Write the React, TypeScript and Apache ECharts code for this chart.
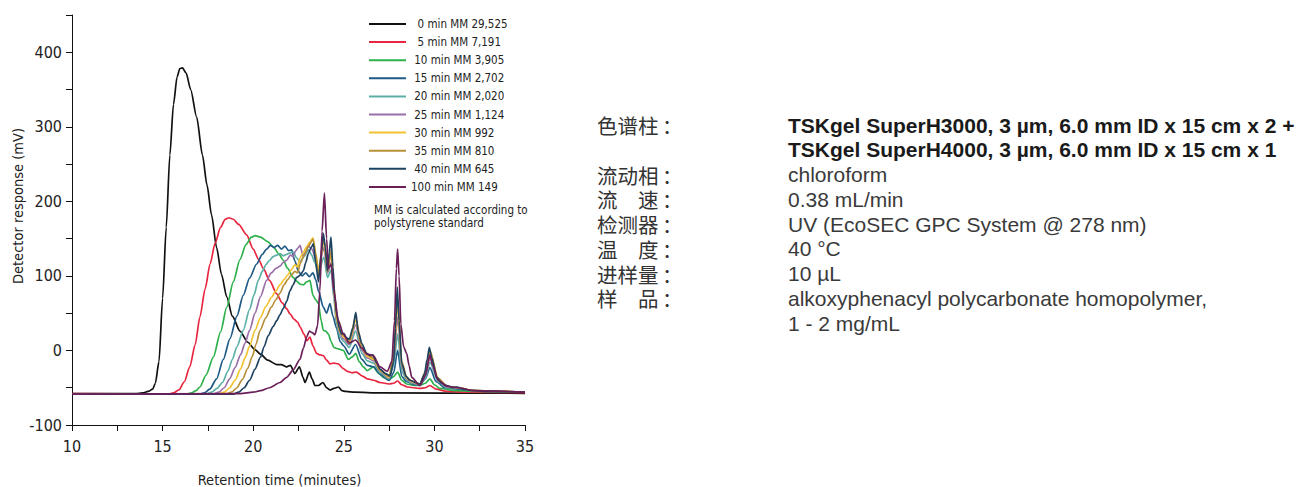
import React, { useEffect, useRef } from "react";
import * as echarts from "echarts";

// Sample labels and trace colours
const traceNames = [
  "0 min MM 29,525",
  "5 min MM 7,191",
  "10 min MM 3,905",
  "15 min MM 2,702",
  "20 min MM 2,020",
  "25 min MM 1,124",
  "30 min MM 992",
  "35 min MM 810",
  "40 min MM 645",
  "100 min MM 149",
];
const traceColors = [
  "#111111",
  "#e8263f",
  "#2db14b",
  "#1f5a86",
  "#5cb0a6",
  "#9a6ea8",
  "#f2c230",
  "#b8903a",
  "#1d4360",
  "#6b1f58",
];

// Retention time (min), detector response (mV)
const trace0 = [[10,-58],[13.5,-58],[13.9,-57],[14.2,-55],[14.45,-52],[14.6,-44],[14.8,-15],[15.0,70],[15.2,165],[15.4,262],[15.6,330],[15.8,367],[15.95,378],[16.1,379],[16.3,372],[16.55,350],[16.88,313],[17.2,262],[17.45,222],[17.7,182],[17.98,138],[18.25,102],[18.54,72],[18.85,46],[19.27,26],[19.7,11],[20.1,1],[20.4,-5],[20.8,-13],[21.3,-19],[21.55,-19],[21.85,-22],[22.05,-20],[22.3,-31],[22.55,-22],[22.75,-36],[22.86,-43],[23.1,-29],[23.25,-38],[23.41,-47],[23.6,-47],[23.85,-43],[24.05,-50],[24.24,-53],[24.45,-51],[24.7,-49],[24.9,-54],[25.1,-55],[25.6,-56],[27,-57],[35,-57.5]];
const trace5 = [[10,-58],[15.3,-58.5],[15.6,-57],[15.9,-53],[16.2,-42],[16.5,-22],[16.8,8],[17.06,45],[17.35,83],[17.62,116],[17.9,144],[18.2,165],[18.45,176],[18.65,178],[18.9,176],[19.2,169],[19.64,155],[20.0,136],[20.3,122],[20.56,110],[20.9,94],[21.3,76],[21.6,64],[21.85,56],[22.03,49],[22.25,42],[22.45,38],[22.6,31],[22.8,22],[22.97,13],[23.13,18],[23.3,6],[23.5,-4],[23.7,-6],[23.87,-7],[24.05,-13],[24.24,-18],[24.45,-17],[24.7,-18],[24.95,-24],[25.2,-28],[25.45,-30],[25.7,-29],[26.0,-34],[26.3,-38],[26.65,-40],[27.0,-43],[27.5,-45],[27.75,-44],[27.97,-41],[28.2,-46],[28.5,-49],[29.2,-51],[29.5,-50],[29.75,-47],[30.1,-52],[30.7,-55],[32,-56],[35,-56.5]];
const trace10 = [[10,-58.5],[16.3,-58.5],[16.6,-57],[16.85,-54],[17.06,-49],[17.4,-33],[17.8,-9],[18.2,25],[18.54,58],[18.9,92],[19.27,122],[19.6,142],[19.9,152],[20.1,154],[20.4,152],[20.8,146],[21.11,139],[21.4,130],[21.66,121],[21.9,110],[22.2,98],[22.4,93],[22.58,89],[22.77,88],[22.95,92],[23.13,94],[23.3,74],[23.45,68],[23.6,63],[23.75,40],[23.87,27],[24.0,26],[24.15,22],[24.3,12],[24.45,4],[24.7,2],[24.97,0],[25.25,-12],[25.45,-9],[25.66,-4],[25.85,-15],[26.08,-22],[26.3,-27],[26.63,-22],[26.9,-30],[27.18,-36],[27.5,-39],[27.75,-35],[27.97,-29],[28.2,-40],[28.47,-45],[28.9,-47],[29.2,-47],[29.5,-44],[29.75,-38],[30.0,-46],[30.3,-51],[31.2,-54],[32.5,-55],[35,-56]];
const trace15 = [[10,-58.5],[17.0,-58.5],[17.3,-57],[17.6,-52],[17.98,-38],[18.35,-12],[18.72,16],[19.1,46],[19.45,74],[19.8,97],[20.19,116],[20.5,129],[20.74,136],[20.95,141],[21.15,138],[21.35,141],[21.57,136],[21.75,140],[21.95,134],[22.12,135],[22.3,120],[22.5,106],[22.7,100],[22.9,104],[23.1,99],[23.3,104],[23.45,95],[23.6,80],[23.87,58],[24.05,50],[24.24,63],[24.4,46],[24.6,30],[24.8,12],[25.0,6],[25.3,-5],[25.65,8],[26.0,-12],[26.3,-20],[26.65,-22],[27.0,-32],[27.5,-40],[27.75,-30],[27.97,0],[28.2,-35],[28.47,-42],[28.9,-46],[29.2,-46],[29.5,-38],[29.75,-23],[30.1,-42],[30.6,-50],[31.3,-52],[32.5,-54.5],[35,-56]];
const trace20 = [[10,-58.5],[17.4,-58.5],[17.7,-56],[18.0,-51],[18.3,-43],[18.6,-28],[18.85,-12],[19.1,5],[19.45,27],[19.8,55],[20.05,75],[20.28,94],[20.5,106],[20.7,115],[20.9,121],[21.1,126],[21.3,128],[21.48,130],[21.65,127],[21.85,129],[22.05,131],[22.21,132],[22.4,124],[22.6,119],[22.8,126],[23.05,135],[23.23,128],[23.4,118],[23.6,104],[23.9,125],[24.1,98],[24.3,108],[24.45,70],[24.6,35],[24.8,18],[25.0,12],[25.3,4],[25.65,26],[26.0,-4],[26.3,-14],[26.65,-17],[27.0,-30],[27.5,-38],[27.75,-20],[27.97,22],[28.2,-28],[28.47,-40],[28.75,-44],[29.2,-46],[29.5,-37],[29.75,-16],[30.2,-42],[30.7,-50],[31.3,-51],[32.2,-54],[35,-56]];
const trace25 = [[10,-58.5],[17.8,-58.5],[18.1,-56],[18.4,-50],[18.7,-38],[19.0,-23],[19.3,-6],[19.55,10],[19.8,27],[20.1,50],[20.4,72],[20.74,94],[21.0,104],[21.25,110],[21.48,113],[21.65,118],[21.85,121],[22.05,128],[22.2,126],[22.35,134],[22.5,138],[22.58,141],[22.75,127],[22.9,132],[23.05,140],[23.25,136],[23.45,122],[23.6,110],[23.9,138],[24.1,104],[24.3,118],[24.45,78],[24.6,40],[24.8,22],[25.0,15],[25.3,8],[25.65,34],[26.0,0],[26.3,-10],[26.65,-14],[27.0,-28],[27.5,-37],[27.75,-15],[27.97,45],[28.2,-22],[28.47,-38],[28.75,-43],[29.2,-46],[29.5,-34],[29.75,-10],[30.2,-40],[30.7,-49],[31.3,-50],[32.2,-54],[35,-56]];
const trace30 = [[10,-58.5],[18.1,-58.5],[18.4,-56],[18.7,-50],[19.0,-40],[19.3,-25],[19.55,-10],[19.8,6],[20.1,27],[20.4,44],[20.7,59],[21.0,71],[21.25,80],[21.48,88],[21.7,95],[21.9,101],[22.1,108],[22.3,115],[22.45,112],[22.58,124],[22.75,131],[22.95,139],[23.15,146],[23.3,151],[23.45,130],[23.6,108],[23.9,148],[24.1,110],[24.3,128],[24.45,82],[24.6,42],[24.8,24],[25.0,18],[25.3,10],[25.65,40],[26.0,3],[26.3,-8],[26.65,-12],[27.0,-27],[27.5,-36],[27.75,-10],[27.97,62],[28.2,-18],[28.47,-37],[28.75,-42],[29.2,-45],[29.5,-30],[29.75,-3],[30.2,-38],[30.7,-48],[31.3,-50],[32.2,-54],[35,-56]];
const trace35 = [[10,-58.5],[18.5,-58.5],[18.8,-56],[19.1,-50],[19.4,-39],[19.7,-24],[19.95,-8],[20.15,8],[20.38,27],[20.7,44],[21.0,58],[21.25,68],[21.48,77],[21.7,88],[21.9,95],[22.1,101],[22.3,106],[22.45,104],[22.6,117],[22.8,127],[23.05,140],[23.3,149],[23.45,130],[23.6,100],[23.9,150],[24.1,105],[24.3,135],[24.45,88],[24.6,45],[24.8,26],[25.0,20],[25.3,12],[25.65,44],[26.0,5],[26.3,-6],[26.65,-10],[27.0,-26],[27.5,-35],[27.75,-5],[27.97,72],[28.2,-15],[28.47,-36],[28.75,-41],[29.2,-45],[29.5,-28],[29.75,0],[30.2,-37],[30.7,-48],[31.3,-50],[32.2,-54],[35,-56]];
const trace40 = [[10,-58.5],[18.9,-58.5],[19.2,-56],[19.5,-50],[19.8,-40],[20.1,-25],[20.4,-9],[20.6,5],[20.83,20],[21.1,32],[21.3,40],[21.48,48],[21.65,56],[21.85,66],[22.03,80],[22.2,88],[22.4,98],[22.6,101],[22.77,107],[22.9,118],[23.04,130],[23.2,138],[23.32,143],[23.45,118],[23.6,92],[23.75,130],[23.87,157],[23.98,138],[24.1,107],[24.2,132],[24.29,152],[24.4,112],[24.5,72],[24.61,49],[24.75,30],[24.88,22],[25.0,23],[25.15,17],[25.3,15],[25.5,30],[25.66,51],[25.8,25],[26.0,9],[26.26,-4],[26.45,-7],[26.6,-6],[26.8,-16],[27.0,-25],[27.3,-31],[27.55,-34],[27.75,-15],[27.85,30],[27.95,85],[28.05,40],[28.2,-18],[28.45,-35],[28.65,-40],[29.2,-45],[29.45,-32],[29.6,-12],[29.72,4],[29.85,-10],[30.13,-36],[30.4,-44],[30.68,-47],[31.0,-50],[31.25,-49],[31.6,-52],[32.15,-54],[33,-55],[35,-56]];
const trace100 = [[10,-58.5],[19.3,-58],[20.0,-56],[20.4,-54],[20.9,-50],[21.48,-43],[21.85,-36],[22.21,-26],[22.58,-12],[22.77,3],[22.95,18],[23.1,26],[23.25,24],[23.4,21],[23.55,33],[23.68,80],[23.8,160],[23.93,211],[24.05,150],[24.15,110],[24.3,116],[24.45,80],[24.7,40],[24.97,22],[25.3,10],[25.65,14],[26.0,3],[26.3,-5],[26.63,-7],[27.0,-22],[27.4,-28],[27.65,-15],[27.8,40],[27.9,110],[27.97,136],[28.05,100],[28.15,35],[28.3,5],[28.47,-4],[28.6,-20],[28.75,-36],[29.2,-47],[29.5,-34],[29.75,-6],[29.9,-20],[30.2,-40],[30.7,-48],[31.3,-50],[32.2,-54],[35,-56]];

const traces = [trace0, trace5, trace10, trace15, trace20, trace25, trace30, trace35, trace40, trace100];

// Method conditions shown beside the chromatogram
const conditionLabels = ["色谱柱", "", "流动相", "流\u3000速", "检测器", "温\u3000度", "进样量", "样\u3000品", ""];
const conditionValues = [
  "TSKgel SuperH3000, 3 µm, 6.0 mm ID x 15 cm x 2 +",
  "TSKgel SuperH4000, 3 µm, 6.0 mm ID x 15 cm x 1",
  "chloroform",
  "0.38 mL/min",
  "UV (EcoSEC GPC System @ 278 nm)",
  "40 °C",
  "10 µL",
  "alkoxyphenacyl polycarbonate homopolymer,",
  "1 - 2 mg/mL",
];
const noteLines = ["MM is calculated according to", "polystyrene standard"];

const narrow =
  "'Liberation Sans Narrow', 'DejaVu Sans Condensed', 'Roboto Condensed', 'Liberation Sans', sans-serif";
const plain = "'Liberation Sans', Arial, sans-serif";
const cjk = "'Noto Sans CJK SC', sans-serif";

// Nudge the shorter sample times right so the "min" words roughly line up
function legendLabel(name: string) {
  const digits = name.indexOf(" min");
  return "\u00a0".repeat(Math.max(0, 3 - digits)) + name;
}

function buildOption(): echarts.EChartsOption {
  const series = traces.map((data, i) => ({
    name: traceNames[i],
    type: "line" as const,
    data,
    showSymbol: false,
    symbol: "none",
    smooth: 0.25,
    smoothMonotone: "x" as const,
    lineStyle: { color: traceColors[i], width: 1.7 },
    itemStyle: { color: traceColors[i] },
    emphasis: { disabled: true },
    z: 2 + i,
  }));

  const rowTop = 125;
  const rowStep = 24.75;
  const graphics: any[] = [];
  // Condition names and their colons, each as one multi-line block
  graphics.push({
    type: "text",
    left: 597,
    top: rowTop - rowStep / 2,
    style: {
      text: conditionLabels.join("\n"),
      fontSize: 20.5,
      lineHeight: rowStep,
      fontFamily: cjk,
      fill: "#333333",
    },
  });
  graphics.push({
    type: "text",
    left: 662,
    top: rowTop - rowStep / 2,
    style: {
      text: conditionLabels.map((t) => (t ? "：" : "")).join("\n"),
      fontSize: 20.5,
      lineHeight: rowStep,
      fontFamily: cjk,
      fill: "#333333",
    },
  });
  conditionValues.forEach((t, i) => {
    graphics.push({
      type: "text",
      left: 788,
      top: rowTop + i * rowStep - 11,
      style: {
        text: t,
        fontSize: 21,
        lineHeight: 22,
        fontFamily: plain,
        fontWeight: i < 2 ? "bold" : "normal",
        fill: i < 2 ? "#1a1a1a" : "#3a3a3a",
      },
    });
  });
  noteLines.forEach((t, i) => {
    graphics.push({
      type: "text",
      left: 374,
      top: 203 + i * 13,
      style: { text: t, fontSize: 11.5, lineHeight: 13, fontFamily: narrow, fill: "#222222" },
    });
  });

  return {
    animation: false,
    backgroundColor: "#ffffff",
    grid: {
      left: 72,
      top: 15,
      width: 453,
      height: 410,
      containLabel: false,
      outerBoundsMode: "none",
    } as any,
    legend: {
      data: traceNames,
      orient: "vertical",
      left: 369,
      top: 17,
      padding: 0,
      itemWidth: 37,
      itemHeight: 2,
      itemGap: 4.1,
      icon: "rect",
      selectedMode: false,
      formatter: legendLabel,
      textStyle: {
        fontFamily: narrow,
        fontSize: 11.5,
        color: "#222222",
        lineHeight: 14,
      },
    },
    xAxis: {
      type: "value",
      min: 10,
      max: 35,
      interval: 2.5,
      name: "Retention time (minutes)",
      nameLocation: "middle",
      nameGap: 47,
      nameTextStyle: { fontFamily: narrow, fontSize: 14.5, color: "#222222", padding: [0, 38, 0, 0] },
      axisLine: { onZero: false, lineStyle: { color: "#111111", width: 1 } },
      axisTick: { show: true, length: 6, lineStyle: { color: "#111111" } },
      splitLine: { show: false },
      axisLabel: {
        margin: 13,
        fontFamily: narrow,
        fontSize: 16,
        color: "#222222",
        formatter: (v: number) => (v % 5 === 0 ? String(v) : ""),
      },
    },
    yAxis: {
      type: "value",
      min: -100,
      max: 450,
      interval: 50,
      name: "Detector response (mV)",
      nameLocation: "middle",
      nameGap: 47,
      nameTextStyle: { fontFamily: narrow, fontSize: 14.5, color: "#222222", padding: [0, 0, 0, 28] },
      axisLine: { show: true, onZero: false, lineStyle: { color: "#111111", width: 1 } },
      axisTick: { show: true, length: 6, lineStyle: { color: "#111111" } },
      splitLine: { show: false },
      axisLabel: {
        margin: 10,
        fontFamily: narrow,
        fontSize: 16,
        color: "#222222",
        formatter: (v: number) => (v % 100 === 0 ? String(v) : ""),
      },
    },
    series,
    graphic: graphics,
  };
}

export default function App() {
  const ref = useRef<HTMLDivElement>(null);
  useEffect(() => {
    if (!ref.current) return;
    const chart = echarts.init(ref.current, null, { renderer: "svg" });
    chart.setOption(buildOption());
    return () => chart.dispose();
  }, []);
  return (
    <div
      ref={ref}
      style={{ position: "fixed", left: 0, top: 0, width: 1296, height: 487, background: "#fff" }}
    />
  );
}
